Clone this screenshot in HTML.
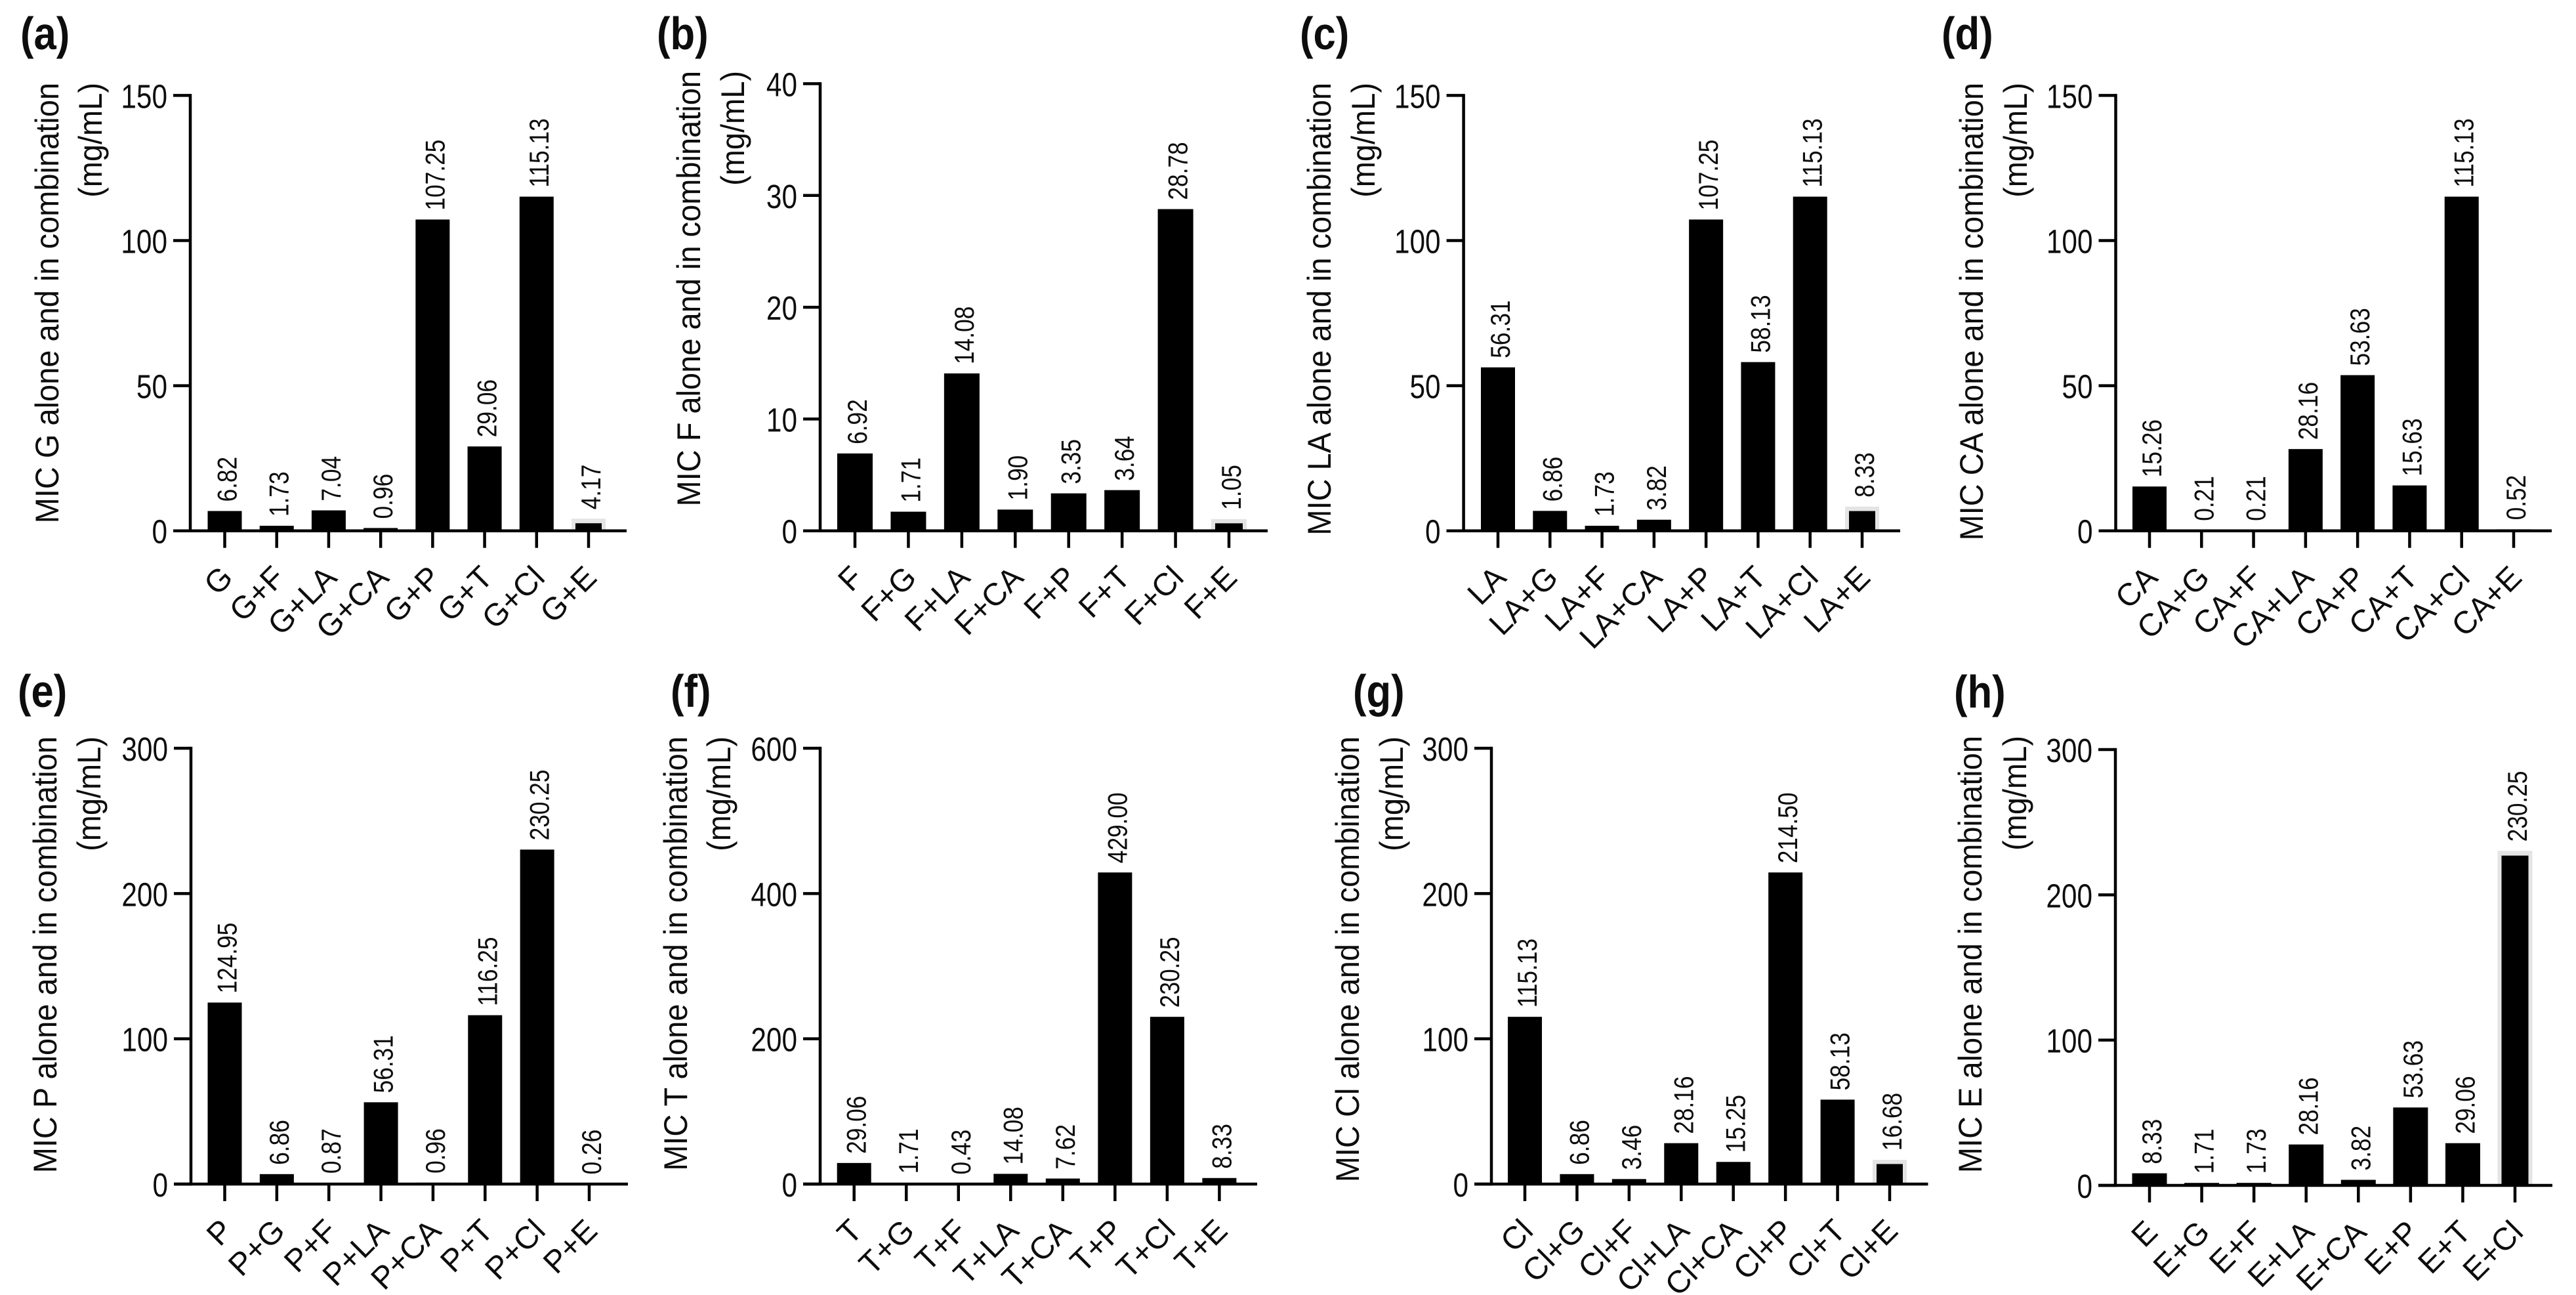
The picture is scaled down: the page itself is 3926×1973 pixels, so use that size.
<!DOCTYPE html>
<html lang="en">
<head>
<meta charset="utf-8">
<title>MIC alone and in combination</title>
<style>
html,body{margin:0;padding:0;background:#fff;width:3926px;height:1973px;overflow:hidden}
svg{display:block}
text{font-family:"Liberation Sans",sans-serif;fill:#0d0d0d}
</style>
</head>
<body>
<svg id="figure" xmlns="http://www.w3.org/2000/svg" width="3926" height="1973" viewBox="0 0 3926 1973"></svg>
<script>
var categoriesA = ['G','G+F','G+LA','G+CA','G+P','G+T','G+Cl','G+E'];
var valuesA = [6.82,1.73,7.04,0.96,107.25,29.06,115.13,4.17];
var ticksA = [0,50,100,150];
var categoriesB = ['F','F+G','F+LA','F+CA','F+P','F+T','F+Cl','F+E'];
var valuesB = [6.92,1.71,14.08,1.90,3.35,3.64,28.78,1.05];
var ticksB = [0,10,20,30,40];
var categoriesC = ['LA','LA+G','LA+F','LA+CA','LA+P','LA+T','LA+Cl','LA+E'];
var valuesC = [56.31,6.86,1.73,3.82,107.25,58.13,115.13,8.33];
var ticksC = [0,50,100,150];
var categoriesD = ['CA','CA+G','CA+F','CA+LA','CA+P','CA+T','CA+Cl','CA+E'];
var valuesD = [15.26,0.21,0.21,28.16,53.63,15.63,115.13,0.52];
var ticksD = [0,50,100,150];
var categoriesE = ['P','P+G','P+F','P+LA','P+CA','P+T','P+Cl','P+E'];
var valuesE = [124.95,6.86,0.87,56.31,0.96,116.25,230.25,0.26];
var ticksE = [0,100,200,300];
var categoriesF = ['T','T+G','T+F','T+LA','T+CA','T+P','T+Cl','T+E'];
var valuesF = [29.06,1.71,0.43,14.08,7.62,429.00,230.25,8.33];
var ticksF = [0,200,400,600];
var categoriesG = ['Cl','Cl+G','Cl+F','Cl+LA','Cl+CA','Cl+P','Cl+T','Cl+E'];
var valuesG = [115.13,6.86,3.46,28.16,15.25,214.50,58.13,16.68];
var ticksG = [0,100,200,300];
var categoriesH = ['E','E+G','E+F','E+LA','E+CA','E+P','E+T','E+Cl'];
var valuesH = [8.33,1.71,1.73,28.16,3.82,53.63,29.06,230.25];
var ticksH = [0,100,200,300];

var panels = [
  {id:'a',subject:'G',cats:categoriesA,vals:valuesA,ticks:ticksA,fadedIndex:7,fadedInk:2.6,
   ax:290,top:145.4,y0:808.7,end:955,t0:342.5,tN:897,bw:52,lx:31,ly:75,tx:89,t2x:155,tTop:126},
  {id:'b',subject:'F',cats:categoriesB,vals:valuesB,ticks:ticksB,fadedIndex:7,fadedInk:0.67,
   ax:1250,top:127.5,y0:808.7,end:1932,t0:1303,tN:1873,bw:54,lx:1001,ly:75,tx:1067,t2x:1134,tTop:108},
  {id:'c',subject:'LA',cats:categoriesC,vals:valuesC,ticks:ticksC,fadedIndex:7,fadedInk:6.8,
   ax:2230.6,top:145.4,y0:808.7,end:2896,t0:2283,tN:2838,bw:52,lx:1981,ly:75,tx:2028,t2x:2095,tTop:126},
  {id:'d',subject:'CA',cats:categoriesD,vals:valuesD,ticks:ticksD,fadedIndex:-1,fadedInk:0,
   ax:3224.5,top:145.4,y0:808.7,end:3889,t0:3276,tN:3831,bw:52,lx:2959,ly:75,tx:3022,t2x:3089,tTop:126},
  {id:'e',subject:'P',cats:categoriesE,vals:valuesE,ticks:ticksE,fadedIndex:-1,fadedInk:0,
   ax:291,top:1140,y0:1804,end:957,t0:342.5,tN:898,bw:52,lx:27,ly:1077,tx:86,t2x:153,tTop:1122},
  {id:'f',subject:'T',cats:categoriesF,vals:valuesF,ticks:ticksF,fadedIndex:-1,fadedInk:0,
   ax:1250,top:1140,y0:1804,end:1916,t0:1301.7,tN:1858.4,bw:52,lx:1022,ly:1077,tx:1047,t2x:1113,tTop:1122},
  {id:'g',subject:'Cl',cats:categoriesG,vals:valuesG,ticks:ticksG,fadedIndex:7,fadedInk:13.8,
   ax:2273,top:1140,y0:1804,end:2938.5,t0:2324,tN:2880,bw:52,lx:2062,ly:1077,tx:2071,t2x:2138,tTop:1122},
  {id:'h',subject:'E',cats:categoriesH,vals:valuesH,ticks:ticksH,fadedIndex:7,fadedInk:227,
   ax:3224,top:1142,y0:1806,end:3890,t0:3276,tN:3833,bw:53,lx:2978,ly:1078,tx:3020,t2x:3088,tTop:1121}
];

var SVGNS = 'http://www.w3.org/2000/svg';
var figure = document.getElementById('figure');

function addLine(parent, name, x1, y1, x2, y2) {
  var el = document.createElementNS(SVGNS, 'line');
  
  
  el.setAttribute('x1', x1);
  el.setAttribute('y1', y1);
  el.setAttribute('x2', x2);
  el.setAttribute('y2', y2);
  el.setAttribute('stroke', '#000');
  el.setAttribute('stroke-width', '4.5');
  parent.appendChild(el);
  return el;
}

function addRect(parent, name, x, y, w, h, fill) {
  var el = document.createElementNS(SVGNS, 'rect');
  
  
  el.setAttribute('x', x);
  el.setAttribute('y', y);
  el.setAttribute('width', w);
  el.setAttribute('height', Math.max(h, 0));
  el.setAttribute('fill', fill);
  parent.appendChild(el);
  return el;
}

function addText(parent, name, str, x, y, size, rotate, scaleX, anchor, weight) {
  var el = document.createElementNS(SVGNS, 'text');
  
  
  el.setAttribute('font-size', size);
  el.setAttribute('text-anchor', anchor);
  if (weight) el.setAttribute('font-weight', weight);
  el.setAttribute('transform', 'translate(' + x + ' ' + y + ') rotate(' + rotate + ') scale(' + scaleX + ' 1)');
  el.textContent = str;
  parent.appendChild(el);
  return el;
}

function yScale(p) {
  var max = p.ticks[p.ticks.length - 1];
  return function (v) { return p.y0 - (v / max) * (p.y0 - p.top); };
}

function xScale(p) {
  var step = (p.tN - p.t0) / (p.cats.length - 1);
  return function (i) { return p.t0 + i * step; };
}

function drawPanel(p) {
  var g = document.createElementNS(SVGNS, 'g');
  
  
  figure.appendChild(g);

  var y = yScale(p);
  var x = xScale(p);

  addText(g, 'panel-label-' + p.id, '(' + p.id + ')', p.lx, p.ly, 70, 0, 0.88, 'start', 'bold');
  addText(g, 'y-axis-title-' + p.id, 'MIC ' + p.subject + ' alone and in combination', p.tx, p.tTop, 50, -90, 0.94, 'end');
  addText(g, 'y-axis-unit-' + p.id, '(mg/mL)', p.t2x, p.tTop, 50, -90, 0.94, 'end');

  p.vals.forEach(function (v, i) {
    var cx = x(i);
    if (i === p.fadedIndex) {
      addRect(g, 'bar-halo-' + p.cats[i], cx - p.bw / 2, y(v), p.bw, p.y0 - y(v), '#e4e4e4');
      addRect(g, 'bar-' + p.cats[i], cx - p.bw / 2 + 6, y(p.fadedInk), p.bw - 12, p.y0 - y(p.fadedInk), '#000');
    } else {
      addRect(g, 'bar-' + p.cats[i], cx - p.bw / 2, y(v), p.bw, p.y0 - y(v), '#000');
    }
    addText(g, 'bar-value-' + p.cats[i], v.toFixed(2), cx + 18, y(v) - 14, 42, -90, 0.84, 'start');
    addLine(g, 'x-tick-' + p.cats[i], cx, p.y0, cx, p.y0 + 26);
    addText(g, 'x-tick-label-' + p.cats[i], p.cats[i], cx + 15, p.y0 + 74, 48, -45, 1, 'end');
  });

  p.ticks.forEach(function (t) {
    addLine(g, 'y-tick-' + p.id + '-' + t, p.ax - 26, y(t), p.ax, y(t));
    addText(g, 'y-tick-label-' + p.id + '-' + t, String(t), p.ax - 35, y(t) + 19, 51, 0, 0.83, 'end');
  });

  addLine(g, 'y-axis-' + p.id, p.ax, p.top - 2.25, p.ax, p.y0 + 2.25);
  addLine(g, 'x-axis-' + p.id, p.ax - 26, p.y0, p.end, p.y0);
}

panels.forEach(drawPanel);
</script>
</body>
</html>
